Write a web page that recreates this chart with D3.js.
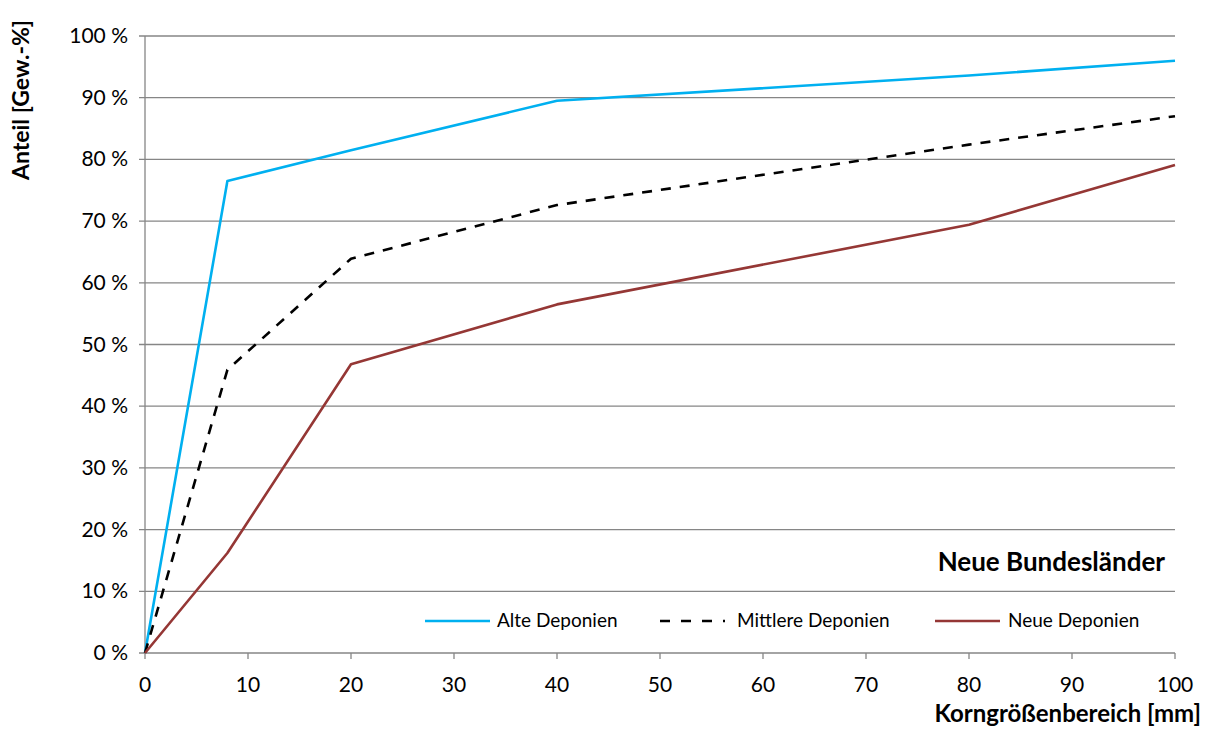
<!DOCTYPE html>
<html><head><meta charset="utf-8">
<script src="https://cdn.jsdelivr.net/npm/d3@7"></script>
<style>body{margin:0;background:#fff;} text{font-family:Lato,"Open Sans",sans-serif;}</style>
</head><body><svg id="c" width="1210" height="747"></svg>
<script>
const sizes = [0, 8, 20, 40, 80, 100];
const alte = [0, 76.5, 81.5, 89.5, 93.6, 96.0];
const mittlere = [0, 45.9, 63.9, 72.6, 82.4, 87.0];
const neue = [0, 16.2, 46.8, 56.5, 69.4, 79.1];
const seriesNames = ["Alte Deponien", "Mittlere Deponien", "Neue Deponien"];
const xTicks = [0,10,20,30,40,50,60,70,80,90,100];
const yTicks = [0,10,20,30,40,50,60,70,80,90,100];

const svg = d3.select("#c");
const x = d3.scaleLinear().domain([0,100]).range([145,1175]);
const y = d3.scaleLinear().domain([0,100]).range([653,36]);
const grid = "#868686";

svg.append("g").selectAll("line").data(yTicks).join("line")
  .attr("x1",139).attr("x2",1175).attr("y1",d=>y(d)).attr("y2",d=>y(d))
  .attr("stroke",grid).attr("stroke-width",1.3);
svg.append("line").attr("x1",145).attr("x2",145).attr("y1",36).attr("y2",653).attr("stroke",grid).attr("stroke-width",1.3);
svg.append("g").selectAll("line").data(xTicks).join("line")
  .attr("x1",d=>x(d)).attr("x2",d=>x(d)).attr("y1",653).attr("y2",659)
  .attr("stroke",grid).attr("stroke-width",1.3);
svg.append("g").selectAll("text").data(xTicks).join("text")
  .attr("x",d=>x(d)).attr("y",692).attr("text-anchor","middle")
  .attr("font-size",21).attr("fill","#000").text(d=>d);
svg.append("g").selectAll("text").data(yTicks).join("text")
  .attr("x",128).attr("y",d=>y(d)+7).attr("text-anchor","end")
  .attr("font-size",21).attr("fill","#000").text(d=>d+" %");

svg.append("text").attr("transform","translate(29,100) rotate(-90)").attr("text-anchor","middle")
  .attr("font-size",23).attr("font-weight","bold").text("Anteil [Gew.-%]");
svg.append("text").attr("x",1201).attr("y",722).attr("text-anchor","end")
  .attr("font-size",24).attr("font-weight","bold").text("Korngrößenbereich [mm]");
svg.append("text").attr("x",1165).attr("y",571).attr("text-anchor","end")
  .attr("font-size",26).attr("font-weight","bold").text("Neue Bundesländer");

const line = d3.line().x((d,i)=>x(sizes[i])).y(d=>y(d));
const styles = [
  {data:alte, color:"#00B0F0", dash:null},
  {data:mittlere, color:"#000000", dash:"10,9"},
  {data:neue, color:"#953735", dash:null}
];
styles.forEach(s=>{
  svg.append("path").attr("d",line(s.data)).attr("fill","none")
    .attr("stroke",s.color).attr("stroke-width",2.6)
    .attr("stroke-dasharray",s.dash).attr("stroke-linejoin","round");
});

const legX = [425, 660, 935];
const legTextX = [497, 737, 1008];
styles.forEach((s,i)=>{
  svg.append("line").attr("x1",legX[i]).attr("x2",legX[i]+65).attr("y1",621).attr("y2",621)
    .attr("stroke",s.color).attr("stroke-width",2.6).attr("stroke-dasharray",s.dash?"10,11":null);
  svg.append("text").attr("x",legTextX[i]).attr("y",627).attr("font-size",19).text(seriesNames[i]);
});
</script></body></html>
